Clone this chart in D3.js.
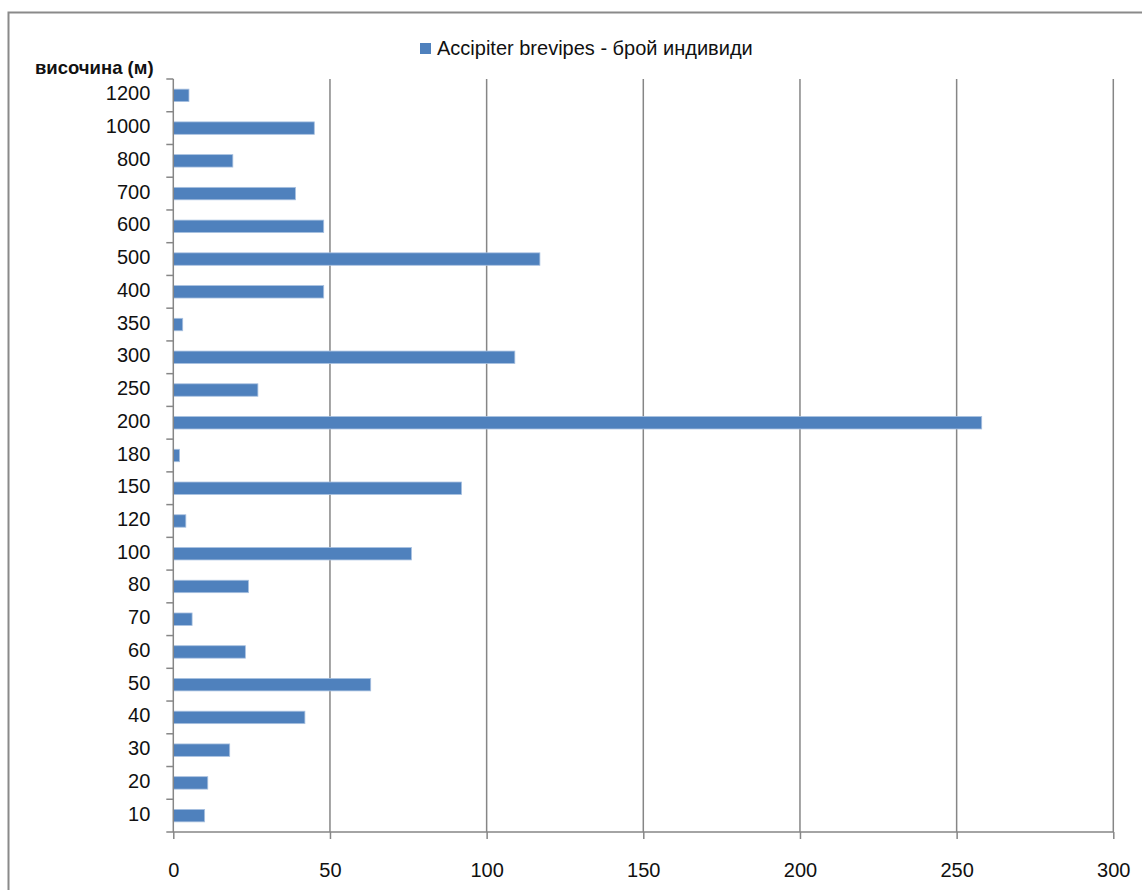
<!DOCTYPE html>
<html>
<head>
<meta charset="utf-8">
<script src="https://cdn.jsdelivr.net/npm/d3@7"></script>
<style>
  html, body { margin: 0; padding: 0; background: #fff; }
  svg { display: block; }
</style>
</head>
<body>
<svg id="chart" width="1142" height="890"></svg>
<script>
// Data (bottom to top as drawn)
const heights = ["10","20","30","40","50","60","70","80","100","120","150","180","200","250","300","350","400","500","600","700","800","1000","1200"];
const counts  = [10, 11, 18, 42, 63, 23, 6, 24, 76, 4, 92, 2, 258, 27, 109, 3, 48, 117, 48, 39, 19, 45, 5];
const xTicks = [0, 50, 100, 150, 200, 250, 300];
const seriesName = "Accipiter brevipes - брой индивиди";
const axisTitle = "височина (м)";

(function () {
const svg = d3.select("#chart");
const W = 1142, H = 890;
const pLeft = 173.3, pRight = 1113.3, pTop = 79, pBottom = 832;
const font = "'Liberation Sans', Arial, sans-serif";
const gridColor = "#868686";

svg.append("rect").attr("width", W).attr("height", H).attr("fill", "#fff");

// outer frame
svg.append("rect")
  .attr("x", 8.5).attr("y", 12.5)
  .attr("width", 1300).attr("height", 1000)
  .attr("fill", "none").attr("stroke", "#8a8a8a").attr("stroke-width", 2);

const x = d3.scaleLinear().domain([0, 300]).range([pLeft, pRight]);
const y = d3.scaleBand().domain(heights.slice().reverse()).range([pTop, pBottom])
  .paddingInner(0.62).paddingOuter(0.31);

// vertical gridlines
svg.append("g").selectAll("line").data(xTicks.filter(d => d > 0)).join("line")
  .attr("x1", d => x(d)).attr("x2", d => x(d))
  .attr("y1", pTop).attr("y2", pBottom)
  .attr("stroke", gridColor).attr("stroke-width", 1.5);

// bars
svg.append("g").selectAll("rect").data(heights.map((h, i) => ({h, v: counts[i]}))).join("rect")
  .attr("x", x(0))
  .attr("y", d => y(d.h))
  .attr("width", d => x(d.v) - x(0))
  .attr("height", y.bandwidth())
  .attr("fill", "#4F81BD")
  .attr("stroke", "#a9c1e0").attr("stroke-width", 0.8);

// x axis
const xAxis = d3.axisBottom(x).tickValues(xTicks).tickSize(7).tickPadding(24).tickFormat(d3.format("d"));
const gx = svg.append("g").attr("transform", `translate(0,${pBottom})`).call(xAxis);
gx.select(".domain").attr("stroke", gridColor).attr("stroke-width", 1.5).attr("d", `M${pLeft},0H${pRight}`);
gx.selectAll(".tick line").attr("stroke", gridColor).attr("stroke-width", 1.5);
gx.selectAll(".tick text").attr("font-family", font).attr("font-size", 20).attr("fill", "#111");

// y axis (ticks between categories)
const gy = svg.append("g").attr("transform", `translate(${pLeft},0)`);
gy.append("line").attr("x1", 0).attr("x2", 0).attr("y1", pTop).attr("y2", pBottom)
  .attr("stroke", gridColor).attr("stroke-width", 1.5);
const step = y.step();
const boundaries = d3.range(heights.length + 1).map(i => pTop + i * step);
gy.selectAll("line.tk").data(boundaries).join("line").attr("class", "tk")
  .attr("x1", -7).attr("x2", 0).attr("y1", d => d).attr("y2", d => d)
  .attr("stroke", gridColor).attr("stroke-width", 1.5);
gy.selectAll("text").data(heights).join("text")
  .attr("x", -23)
  .attr("y", d => y(d) + y.bandwidth() / 2)
  .attr("dy", "0.25em")
  .attr("text-anchor", "end")
  .attr("font-family", font).attr("font-size", 20).attr("fill", "#111")
  .text(d => d);

// axis title
svg.append("text")
  .attr("x", 35).attr("y", 74)
  .attr("font-family", font).attr("font-size", 18.5).attr("font-weight", "bold").attr("fill", "#111")
  .text(axisTitle);

// legend
svg.append("rect").attr("x", 420).attr("y", 43).attr("width", 11).attr("height", 11).attr("fill", "#4F81BD");
svg.append("text")
  .attr("x", 437).attr("y", 55)
  .attr("font-family", font).attr("font-size", 20).attr("fill", "#111")
  .text(seriesName);
})();
</script>
</body>
</html>
